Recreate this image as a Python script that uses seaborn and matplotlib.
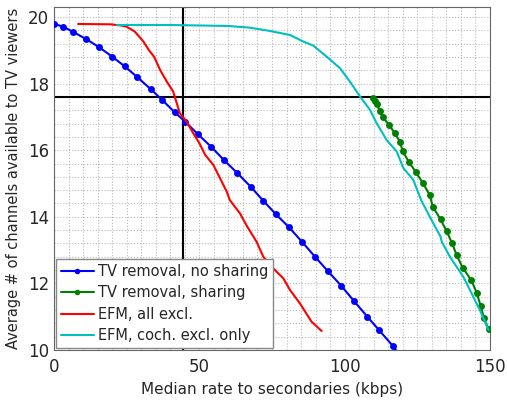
import numpy as np
import pandas as pd
import matplotlib
matplotlib.use("Agg")
import matplotlib.pyplot as plt
from matplotlib.ticker import MultipleLocator
import seaborn as sns

# TV removal, no sharing (blue, with markers)
blue_x = [0.0, 3.2, 6.6, 11.0, 15.4, 20.0, 24.3, 28.7, 33.3, 37.1, 41.5, 45.2, 49.5,
          54.1, 58.5, 63.1, 67.7, 72.0, 76.3, 80.9, 85.3, 89.8, 94.2, 98.8, 103.2,
          107.8, 111.9, 116.5, 118.0]
blue_y = [19.79, 19.71, 19.55, 19.34, 19.10, 18.81, 18.52, 18.19, 17.83, 17.52, 17.14,
          16.85, 16.48, 16.10, 15.70, 15.31, 14.90, 14.48, 14.08, 13.68, 13.25, 12.80,
          12.37, 11.93, 11.47, 11.00, 10.59, 10.13, 9.95]
blue_marks = list(range(28))

# TV removal, sharing (green, with markers)
green_x = [109.8, 110.5, 111.0, 112.1, 113.1, 115.3, 117.2, 119.0, 119.9, 122.0, 124.5,
           127.0, 129.3, 130.3, 133.0, 135.1, 136.9, 138.5, 140.6, 143.6, 145.4, 146.8,
           147.9, 149.5]
green_y = [17.58, 17.49, 17.38, 17.18, 16.99, 16.76, 16.51, 16.26, 15.98, 15.66, 15.34,
           15.00, 14.65, 14.30, 13.92, 13.56, 13.22, 12.85, 12.47, 12.09, 11.72, 11.32,
           10.96, 10.62]

# EFM, all excl. (red)
red_x = [8.3, 19.3, 22.7, 25.0, 27.8, 30.7, 32.6, 34.4, 36.5, 38.8, 41.0, 43.3, 45.6,
         47.9, 50.0, 52.0, 54.8, 57.1, 59.4, 60.5, 64.0, 66.5, 69.7, 72.0, 76.0, 78.9,
         81.2, 84.6, 88.6, 92.1]
red_y = [19.79, 19.78, 19.75, 19.71, 19.56, 19.27, 19.01, 18.81, 18.41, 18.06, 17.76,
         17.11, 16.86, 16.51, 16.21, 15.86, 15.56, 15.16, 14.76, 14.50, 14.10, 13.70,
         13.25, 12.80, 12.40, 12.15, 11.80, 11.40, 10.85, 10.57]

# EFM, coch. excl. only (cyan)
cyan_x = [21.7, 40.0, 60.0, 67.4, 74.3, 81.2, 85.8, 89.2, 93.8, 98.4, 101.8, 105.3,
          108.7, 111.0, 114.4, 117.9, 120.2, 123.6, 126.3, 129.9, 133.0, 133.4, 136.2,
          140.8, 143.1, 146.5, 149.5]
cyan_y = [19.76, 19.76, 19.73, 19.68, 19.58, 19.46, 19.26, 19.14, 18.81, 18.46, 18.06,
          17.61, 17.21, 16.81, 16.31, 15.96, 15.46, 15.11, 14.50, 13.90, 13.40, 13.25,
          12.80, 12.20, 11.80, 11.20, 10.60]

cross_x = 44.5
cross_y = 17.6

sns.set_style("white")
plt.rcParams["font.family"] = ["DejaVu Sans"]

fig = plt.figure(figsize=(5.07, 4.0), dpi=100)
ax = fig.add_axes([0.1065, 0.125, 0.86, 0.8575])

ax.axvline(cross_x, color="black", lw=1.5, zorder=1)
ax.axhline(cross_y, color="black", lw=1.5, zorder=1)

sns.lineplot(x=blue_x, y=blue_y, sort=False, color="#0000ff", lw=1.5, marker="o",
             markersize=5, markeredgewidth=0, markevery=blue_marks,
             label="TV removal, no sharing", ax=ax, zorder=3)
sns.lineplot(x=green_x, y=green_y, sort=False, color="#008000", lw=1.5, marker="o",
             markersize=5, markeredgewidth=0, label="TV removal, sharing", ax=ax, zorder=3)
sns.lineplot(x=red_x, y=red_y, sort=False, color="#ff0000", lw=1.5,
             label="EFM, all excl.", ax=ax, zorder=3)
sns.lineplot(x=cyan_x, y=cyan_y, sort=False, color="#00bfbf", lw=1.5,
             label="EFM, coch. excl. only", ax=ax, zorder=3)

ax.set_xlim(0, 150)
ax.set_ylim(10, 20.3)
ax.xaxis.set_major_locator(MultipleLocator(50))
ax.xaxis.set_minor_locator(MultipleLocator(5))
ax.yaxis.set_major_locator(MultipleLocator(2))
ax.yaxis.set_minor_locator(MultipleLocator(0.4))
ax.grid(which="both", color="#b8b8b8", linestyle=":", lw=0.8)
ax.tick_params(which="both", direction="in", labelsize=12, length=0)
ax.tick_params(axis="x", pad=6)
for s in ax.spines.values():
    s.set_color("#666666")
    s.set_linewidth(0.8)

ax.set_xlabel("Median rate to secondaries (kbps)", fontsize=11)
ax.set_ylabel("Average # of channels available to TV viewers", fontsize=10.5,
              labelpad=5)

leg = ax.legend(loc="lower left", fontsize=10.5, frameon=True, fancybox=False,
                borderpad=0.3, labelspacing=0.45, handlelength=2.3, handletextpad=0.3,
                borderaxespad=0.15)
leg.get_frame().set_edgecolor("#888888")
leg.get_frame().set_alpha(1.0)
for h in leg.legend_handles:
    h.set_markersize(4)

fig.savefig("out.png", dpi=100)
